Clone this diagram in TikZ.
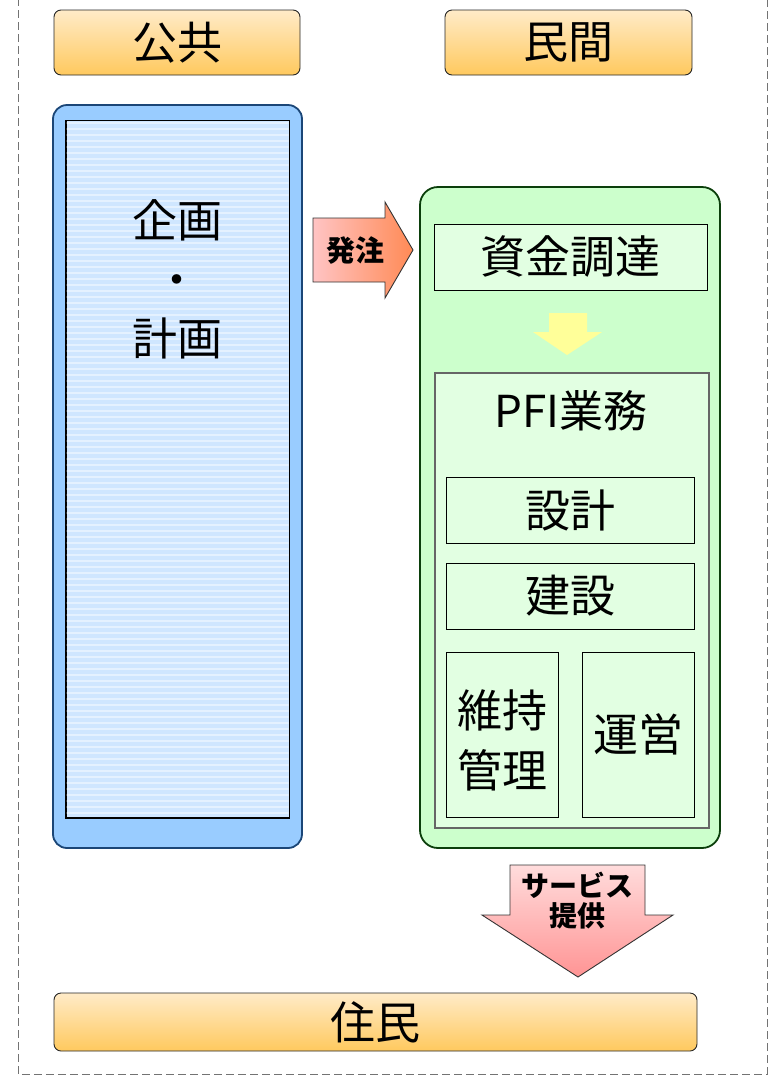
\documentclass[tikz,border=0pt]{standalone}
\usepackage{fontspec}
\newfontfamily\jp{Noto Sans CJK JP}
\usetikzlibrary{calc}
\definecolor{orTop}{HTML}{FFEBC8}
\definecolor{orBot}{HTML}{FFC95E}
\definecolor{blueOut}{HTML}{99CCFF}
\definecolor{blueLine}{HTML}{1B4677}
\definecolor{blueIn}{HTML}{CFE6FF}
\definecolor{greenOut}{HTML}{CCFFCC}
\definecolor{greenLine}{HTML}{0B3F0B}
\definecolor{greenIn}{HTML}{E2FFE2}
\definecolor{yel}{HTML}{FFFF99}
\definecolor{pinkL}{HTML}{FFC4C4}
\definecolor{pinkR}{HTML}{FF8A55}
\definecolor{svTop}{HTML}{FFDCDC}
\definecolor{svBot}{HTML}{FF9494}
\begin{document}
\begin{tikzpicture}[x=1pt,y=-1pt,
  every node/.style={font=\jp, inner sep=0pt},
  hdr/.style={draw=black!85, line width=0.9pt, rounded corners=7pt, top color=orTop, bottom color=orBot, font=\jp\fontsize{45}{48}\selectfont},
  sub/.style={draw=black, line width=1pt, fill=greenIn, font=\jp\fontsize{45}{60}\selectfont, align=center},
  big/.style={font=\jp\fontsize{45}{59}\selectfont, align=center},
  small/.style={font=\jp\bfseries\fontsize{28}{30}\selectfont}
]
\useasboundingbox (0,0) rectangle (770,1077);
% dashed frame
\draw[black!55, line width=1pt, dash pattern=on 8pt off 4pt] (18,-2) -- (18,1074) -- (767,1074) -- (767,-2);

% headers
\node[hdr, minimum width=246pt, minimum height=65pt] (pub) at (177,42.5) {公共};
\node[hdr, minimum width=247pt, minimum height=65pt] (priv) at (568.5,42.5) {民間};

% public planning box
\node[draw=blueLine, line width=1.8pt, fill=blueOut, rounded corners=14pt, minimum width=249pt, minimum height=743pt] (plan) at (177.5,476.5) {};
\node[draw=black, line width=0.9pt, fill=blueIn, minimum width=223pt, minimum height=697pt] (planin) at (177.5,469) {};
\begin{scope}
  \clip (66.5,121) rectangle (288.5,817);
  \foreach \yy in {123,129,...,817} {
    \draw[white, opacity=0.45, line width=1.2pt] (66,\yy) -- (289,\yy);
  }
\end{scope}
\draw[black, line width=0.9pt] (planin.north west) rectangle (planin.south east);
\node[big] (plantext) at (177,279) {企画\\・\\計画};

% private box
\node[draw=greenLine, line width=1.8pt, fill=greenOut, rounded corners=18pt, minimum width=300pt, minimum height=661pt] (spc) at (570,517.5) {};
\node[sub, minimum width=273pt, minimum height=66pt] (fund) at (570.5,257) {資金調達};
\node[draw=black!60, line width=1.8pt, fill=greenIn, minimum width=274pt, minimum height=455pt] (pfi) at (572,600.5) {};
\node[font=\jp\fontsize{44}{46}\selectfont] (pfit) at (571,411) {PFI業務};
\node[sub, minimum width=248pt, minimum height=66pt] (design) at (570,510) {設計};
\node[sub, minimum width=248pt, minimum height=66pt] (build) at (570,596) {建設};
\node[sub, minimum width=112pt, minimum height=165pt] (maint) at (502,734.5) {};
\node[font=\jp\fontsize{45}{60}\selectfont, align=center] (mainttext) at (502,740) {維持\\管理};
\node[sub, minimum width=112pt, minimum height=165pt] (ops) at (638,734.5) {運営};

% yellow arrow fund -> pfi
\fill[yel] (549,313) -- (587,313) -- (587,332) -- (602,332) -- (567,355) -- (533,332) -- (549,332) -- cycle;

% order arrow plan -> spc
\shade[left color=pinkL, right color=pinkR, draw=black!80, line width=0.9pt]
  (313,218) -- (385,218) -- (385,202) -- (413,250) -- (385,298) -- (385,282) -- (313,282) -- cycle;
\node[font=\jp\bfseries\fontsize{29}{30}\selectfont] (order) at (355,251) {発注};

% service arrow spc -> residents
\shade[top color=svTop, bottom color=svBot, draw=black!80, line width=0.9pt]
  (510,865) -- (645,865) -- (645,915) -- (673,915) -- (578,977) -- (482,915) -- (510,915) -- cycle;
\node[small] (svc1) at (577,885) {サービス};
\node[small] (svc2) at (577,916) {提供};

% residents
\node[hdr, minimum width=643pt, minimum height=58pt] (res) at (375.5,1022) {住民};
\end{tikzpicture}
\end{document}
